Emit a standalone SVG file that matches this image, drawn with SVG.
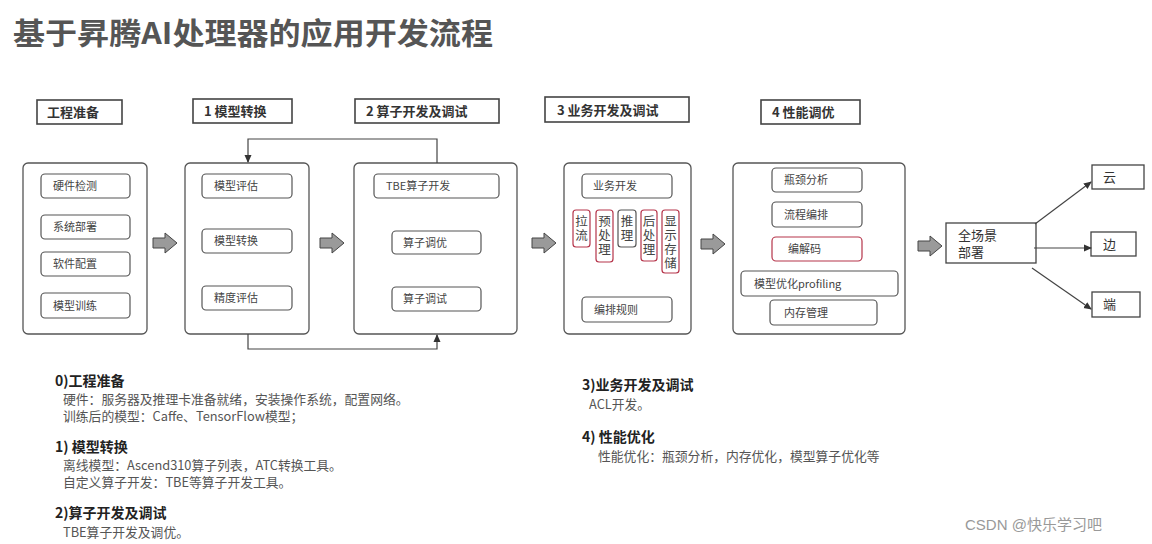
<svg xmlns="http://www.w3.org/2000/svg" width="1152" height="544" viewBox="0 0 1152 544">
<defs>
<style>
text{font-family:"Noto Sans CJK SC","Liberation Sans",sans-serif;fill:#333;}
.title{font-size:30px;font-weight:bold;fill:#555;}
.hdr rect{fill:#fff;stroke:#444;stroke-width:1.6;}
.hdr text{font-size:13px;font-weight:bold;fill:#333;}
.big{fill:#fff;stroke:#555;stroke-width:1.3;}
.inb{fill:#fff;stroke:#555;stroke-width:1.2;}
.red{fill:#fff;stroke:#b5344a;stroke-width:1.2;}
.lbl{font-size:11px;fill:#444;}
.vt{font-size:12.5px;fill:#444;writing-mode:vertical-rl;letter-spacing:1.5px;}
.sq{fill:#fff;stroke:#444;stroke-width:1.3;}
.blk{fill:#9a9a9a;stroke:#444;stroke-width:1;}
.ln{fill:none;stroke:#444;stroke-width:1.2;}
.h{font-size:14px;font-weight:bold;fill:#222;}
.b{font-size:12.8px;fill:#555;}
.wm{font-size:15px;fill:#999;font-family:"Liberation Sans","Noto Sans CJK SC",sans-serif;}
</style>
<marker id="ah" markerWidth="8" markerHeight="8" refX="7" refY="4" orient="auto" markerUnits="userSpaceOnUse"><path d="M0,0.5 L8,4 L0,7.5 Z" fill="#333"/></marker>
<path id="blockarrow" d="M0,-5 L12,-5 L12,-10 L24,0 L12,10 L12,5 L0,5 Z"/>
</defs>
<rect width="1152" height="544" fill="#fff"/>
<text class="title" x="13" y="44" textLength="480" lengthAdjust="spacingAndGlyphs">基于昇腾AI处理器的应用开发流程</text>

<g id="hdr0" class="hdr"><rect x="37" y="100" width="85" height="24"/><text x="47" y="117">工程准备</text></g>
<g id="hdr1" class="hdr"><rect x="193" y="99" width="99" height="24"/><text x="204" y="116">1 模型转换</text></g>
<g id="hdr2" class="hdr"><rect x="355" y="99" width="144" height="24"/><text x="366" y="116">2 算子开发及调试</text></g>
<g id="hdr3" class="hdr"><rect x="545" y="97" width="144" height="25"/><text x="557" y="115">3 业务开发及调试</text></g>
<g id="hdr4" class="hdr"><rect x="761" y="100" width="99" height="24"/><text x="772" y="117">4 性能调优</text></g>

<g id="stage0">
<rect class="big" x="23" y="163" width="124" height="171" rx="5"/>
<rect class="inb" x="41" y="174" width="89" height="24" rx="4"/><text class="lbl" x="53" y="190">硬件检测</text>
<rect class="inb" x="41" y="215" width="89" height="24" rx="4"/><text class="lbl" x="53" y="231">系统部署</text>
<rect class="inb" x="41" y="252" width="89" height="24" rx="4"/><text class="lbl" x="53" y="268">软件配置</text>
<rect class="inb" x="41" y="293" width="89" height="25" rx="4"/><text class="lbl" x="53" y="310">模型训练</text>
</g>

<g id="stage1">
<rect class="big" x="185" y="163" width="124" height="171" rx="5"/>
<rect class="inb" x="202" y="174" width="90" height="24" rx="4"/><text class="lbl" x="214" y="190">模型评估</text>
<rect class="inb" x="202" y="229" width="90" height="24" rx="4"/><text class="lbl" x="214" y="245">模型转换</text>
<rect class="inb" x="202" y="286" width="90" height="24" rx="4"/><text class="lbl" x="214" y="302">精度评估</text>
</g>

<g id="stage2">
<rect class="big" x="354" y="163" width="163" height="171" rx="5"/>
<rect class="inb" x="374" y="174" width="125" height="24" rx="4"/><text class="lbl" x="386" y="190">TBE算子开发</text>
<rect class="inb" x="392" y="231" width="89" height="23" rx="4"/><text class="lbl" x="403" y="247">算子调优</text>
<rect class="inb" x="392" y="287" width="89" height="24" rx="4"/><text class="lbl" x="403" y="303">算子调试</text>
</g>

<g id="stage3">
<rect class="big" x="564" y="163" width="127" height="171" rx="5"/>
<rect class="inb" x="582" y="174" width="90" height="24" rx="4"/><text class="lbl" x="593" y="190">业务开发</text>
<rect class="red" x="573" y="210" width="17" height="37" rx="3"/><text class="vt" x="581.5" y="215">拉流</text>
<rect class="red" x="596" y="210" width="17" height="52" rx="3"/><text class="vt" x="604.5" y="215">预处理</text>
<rect class="inb" x="618" y="210" width="18" height="37" rx="3"/><text class="vt" x="627" y="215">推理</text>
<rect class="red" x="641" y="210" width="16" height="51" rx="3"/><text class="vt" x="649" y="215">后处理</text>
<rect class="red" x="662" y="210" width="17" height="63" rx="3"/><text class="vt" x="670.5" y="215">显示存储</text>
<rect class="inb" x="582" y="297" width="90" height="25" rx="4"/><text class="lbl" x="594" y="314">编排规则</text>
</g>

<g id="stage4">
<rect class="big" x="733" y="163" width="172" height="171" rx="5"/>
<rect class="inb" x="772" y="168" width="90" height="24" rx="4"/><text class="lbl" x="784" y="184">瓶颈分析</text>
<rect class="inb" x="772" y="202" width="90" height="25" rx="4"/><text class="lbl" x="784" y="219">流程编排</text>
<rect class="red" x="772" y="237" width="90" height="24" rx="4"/><text class="lbl" x="788" y="253">编解码</text>
<rect class="inb" x="741" y="271" width="157" height="25" rx="4"/><text class="lbl" x="754" y="288">模型优化profiling</text>
<rect class="inb" x="770" y="300" width="107" height="25" rx="4"/><text class="lbl" x="784" y="317">内存管理</text>
</g>

<g id="deploy">
<rect class="sq" x="946" y="223" width="90" height="40"/>
<text font-size="13" fill="#444"><tspan x="958" y="240">全场景</tspan><tspan x="958" y="257">部署</tspan></text>
</g>
<g id="cloud"><rect class="sq" x="1092" y="165" width="52" height="24"/><text x="1103" y="182" font-size="13" fill="#444">云</text></g>
<g id="edge"><rect class="sq" x="1091" y="232" width="45" height="24"/><text x="1103" y="249" font-size="13" fill="#444">边</text></g>
<g id="device"><rect class="sq" x="1092" y="292" width="48" height="25"/><text x="1103" y="309" font-size="13" fill="#444">端</text></g>

<g id="connectors">
<use href="#blockarrow" class="blk" x="153" y="243"/>
<use href="#blockarrow" class="blk" x="320" y="243"/>
<use href="#blockarrow" class="blk" x="532" y="243"/>
<use href="#blockarrow" class="blk" x="701" y="244"/>
<use href="#blockarrow" class="blk" x="918" y="246"/>
<path class="ln" d="M437,163 V139 H248 V162" marker-end="url(#ah)"/>
<path class="ln" d="M248,334 V349 H437 V335" marker-end="url(#ah)"/>
<path class="ln" d="M1035,224 L1091,182" marker-end="url(#ah)"/>
<path class="ln" d="M1034,248 L1091,248" marker-end="url(#ah)"/>
<path class="ln" d="M1032,268 L1091,309" marker-end="url(#ah)"/>
</g>

<g id="notes">
<text class="h" x="55" y="386">0)工程准备</text>
<text class="b" x="63" y="404">硬件：服务器及推理卡准备就绪，安装操作系统，配置网络。</text>
<text class="b" x="63" y="421">训练后的模型：Caffe、TensorFlow模型；</text>
<text class="h" x="55" y="452">1) 模型转换</text>
<text class="b" x="63" y="470">离线模型：Ascend310算子列表，ATC转换工具。</text>
<text class="b" x="63" y="487">自定义算子开发：TBE等算子开发工具。</text>
<text class="h" x="55" y="518">2)算子开发及调试</text>
<text class="b" x="63" y="537">TBE算子开发及调优。</text>
<text class="h" x="582" y="390">3)业务开发及调试</text>
<text class="b" x="589" y="409">ACL开发。</text>
<text class="h" x="582" y="442">4) 性能优化</text>
<text class="b" x="598" y="461">性能优化：瓶颈分析，内存优化，模型算子优化等</text>
</g>
<text class="wm" x="965" y="530">CSDN @快乐学习吧</text>
</svg>
